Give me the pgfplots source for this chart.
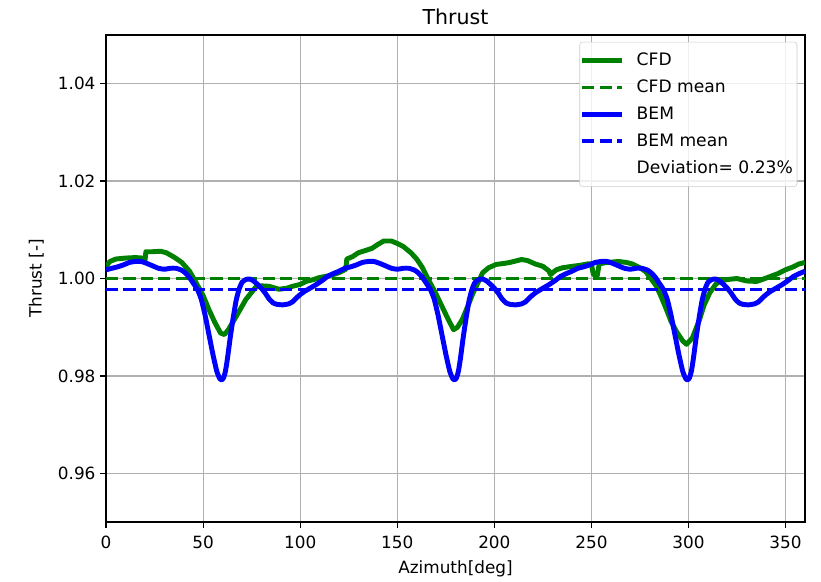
\documentclass[border=0pt]{standalone}
\usepackage{fontspec}
\setmainfont{DejaVu Sans}
\usepackage{pgfplots}
\pgfplotsset{compat=1.18}
\definecolor{mplgreen}{HTML}{008000}
\definecolor{mplblue}{HTML}{0000FF}
\definecolor{gridgray}{HTML}{B0B0B0}
\definecolor{legframe}{HTML}{CCCCCC}
\begin{document}
\begin{tikzpicture}
\begin{axis}[name=ax, scale only axis, width=510pt, height=355.5pt,
  xmin=0, xmax=360, ymin=0.95, ymax=1.05,
  xtick={0,50,...,350}, ytick={0.96,0.98,1.00,1.02,1.04},
  yticklabel style={/pgf/number format/.cd,fixed,fixed zerofill,precision=2},
  /pgf/number format/assume math mode=true,
  tick align=outside, tick pos=left, major tick length=4.2pt,
  every tick/.style={black, line width=0.9pt},
  grid=major, major grid style={gridgray, line width=0.9pt},
  axis line style={line width=0.9pt},
  title={Thrust}, title style={font=\fontsize{15}{18}\selectfont, yshift=-2pt},
  xlabel={Azimuth[deg]}, ylabel={Thrust [-]},
  label style={font=\fontsize{12.3}{14.5}\selectfont},
  ticklabel style={font=\fontsize{12.3}{14.5}\selectfont},
  xticklabel shift=2.5pt, xlabel shift=1.5pt, ylabel shift=3.5pt,
  legend style={at={(0.989,0.986)}, anchor=north east, draw=legframe,
    rounded corners=2pt, fill=white, fill opacity=0.8, text opacity=1,
    font=\fontsize{12.5}{15}\selectfont, row sep=4.9pt, column sep=6pt,
    inner xsep=0pt, inner ysep=6pt,
    nodes={inner xsep=3pt}},
  legend cell align=left,
  legend image code/.code={\draw[#1] (0pt,0pt) -- (29pt,0pt);},
]
\addplot[mplgreen, line width=3.6pt, line join=round] coordinates {
(0,1.0025) (2,1.0035) (5,1.0040) (10,1.0042) (15,1.0043) (19,1.0042) (20,1.0035) (20.5,1.0055)
(24,1.0055) (28,1.0056) (31,1.0053) (35,1.0044) (39,1.0033) (43,1.0015) (46,0.9994) (50,0.9965)
(53,0.9936) (56,0.9910) (59,0.9888) (61,0.9885) (63,0.9895) (67,0.9922) (72,0.9957) (77,0.9982)
(80,0.9985) (84,0.9984) (89,0.9978) (93,0.9980) (96,0.9984) (100,0.9988) (103,0.9994) (107,0.9998)
(110,1.0002) (114,1.0005) (117,1.0008) (120,1.0012) (123,1.0018) (123.5,1.0020) (124,1.0040)
(127,1.0045) (130,1.0053) (134,1.0058) (137,1.0062) (140,1.0070) (143,1.0077) (147,1.0077)
(150,1.0072) (153,1.0066) (157,1.0053) (160,1.0040) (163,1.0022) (166,0.9998) (170,0.9968)
(173,0.9943) (176,0.9918) (179,0.9895) (181,0.9900) (183.5,0.9916) (186,0.9940) (189,0.9970)
(192,0.9995) (194,1.0012) (197,1.0022) (201,1.0029) (205,1.0031) (208,1.0033) (211,1.0036)
(214,1.0039) (217,1.0037) (221,1.0030) (225,1.0025) (228,1.0016) (229,1.0008) (230,1.0012)
(232,1.0018) (235,1.0022) (240,1.0025) (244,1.0027) (248,1.0030) (250,1.0030) (251,1.0008)
(253,1.0006) (254,1.0030) (258,1.0033) (264,1.0035) (268,1.0033) (271,1.0030) (275,1.0022)
(278,1.0014) (281,0.9998) (283.5,0.9984) (286,0.9962) (288.7,0.9936) (291,0.9912) (294,0.9890)
(297,0.9872) (299,0.9865) (302,0.9878) (305.7,0.9916) (308,0.9945) (311,0.9971) (314,0.9988)
(316,0.9994) (320,0.9998) (325,1.0000) (330,0.9995) (335,0.9994) (338,0.9998) (342,1.0004)
(346,1.0010) (350,1.0018) (354,1.0024) (357,1.0030) (360,1.0033)
};
\addlegendentry{CFD}
\addplot[mplgreen, line width=2.4pt, dash pattern=on 8.9pt off 3.8pt] coordinates {(0,1.0000) (360,1.0000)};
\addlegendentry{CFD mean}
\addplot[mplblue, line width=3.6pt, line join=round, smooth, tension=0.3] coordinates {
(0,1.0018) (3,1.0021) (6,1.0024) (9,1.0028) (12,1.0033) (15,1.0035) (18,1.0035) (21,1.0031)
(24,1.0026) (27,1.0021) (30,1.0019) (33,1.0021) (36,1.0021) (39,1.0017) (41,1.0011) (43,1.0002)
(45,0.9990) (47,0.9978) (49,0.9958) (51,0.9925) (53,0.9885) (55,0.9845) (57,0.9810) (58.5,0.9795)
(59.5,0.9792) (60.5,0.9796) (61.5,0.9810) (62.5,0.9835) (64,0.9880) (65.5,0.9920) (67,0.9955)
(68.5,0.9978) (70,0.9992) (72,0.9998) (74,0.9999) (76,0.9995) (78,0.9988) (80,0.9980) (82,0.9970)
(84,0.9958) (86,0.9950) (88,0.9947) (91,0.9946) (94,0.9948) (96,0.9952) (98,0.9960) (100,0.9967)
(102,0.9973) (105,0.9980) (108,0.9987) (111,0.9995) (114,1.0004) (117,1.0010) (120,1.0015)
(123,1.0021) (126,1.0024) (129,1.0028) (132,1.0033) (135,1.0035) (138,1.0035) (141,1.0031)
(144,1.0026) (147,1.0021) (150,1.0019) (153,1.0021) (156,1.0021) (159,1.0017) (161,1.0011) (163,1.0002)
(165,0.9990) (167,0.9978) (169,0.9958) (171,0.9925) (173,0.9885) (175,0.9845) (177,0.9810) (178.5,0.9795)
(179.5,0.9792) (180.5,0.9796) (181.5,0.9810) (182.5,0.9835) (184,0.9880) (185.5,0.9920) (187,0.9955)
(188.5,0.9978) (190,0.9992) (192,0.9998) (194,0.9999) (196,0.9995) (198,0.9988) (200,0.9980) (202,0.9970)
(204,0.9958) (206,0.9950) (208,0.9947) (211,0.9946) (214,0.9948) (216,0.9952) (218,0.9960) (220,0.9967)
(222,0.9973) (225,0.9980) (228,0.9987) (231,0.9995) (234,1.0004) (237,1.0010) (240,1.0015)
(243,1.0021) (246,1.0024) (249,1.0028) (252,1.0033) (255,1.0035) (258,1.0035) (261,1.0031)
(264,1.0026) (267,1.0021) (270,1.0019) (273,1.0021) (276,1.0021) (279,1.0017) (281,1.0011) (283,1.0002)
(285,0.9990) (287,0.9978) (289,0.9958) (291,0.9925) (293,0.9885) (295,0.9845) (297,0.9810) (298.5,0.9795)
(299.5,0.9792) (300.5,0.9796) (301.5,0.9810) (302.5,0.9835) (304,0.9880) (305.5,0.9920) (307,0.9955)
(308.5,0.9978) (310,0.9992) (312,0.9998) (314,0.9999) (316,0.9995) (318,0.9988) (320,0.9980) (322,0.9970)
(324,0.9958) (326,0.9950) (328,0.9947) (331,0.9946) (334,0.9948) (336,0.9952) (338,0.9960) (340,0.9967)
(342,0.9973) (345,0.9980) (348,0.9987) (351,0.9995) (354,1.0004) (357,1.0010) (360,1.0015)
};
\addlegendentry{BEM}
\addplot[mplblue, line width=2.4pt, dash pattern=on 8.9pt off 3.8pt] coordinates {(0,0.9977) (360,0.9977)};
\addlegendentry{BEM mean}
\addlegendimage{empty legend}
\addlegendentry{Deviation= 0.23\%}
\end{axis}
\path[use as bounding box] ([xshift=-77.4pt,yshift=-42.3pt]ax.south west) rectangle ([xshift=11.7pt,yshift=25.5pt]ax.north east);
\end{tikzpicture}
\end{document}
